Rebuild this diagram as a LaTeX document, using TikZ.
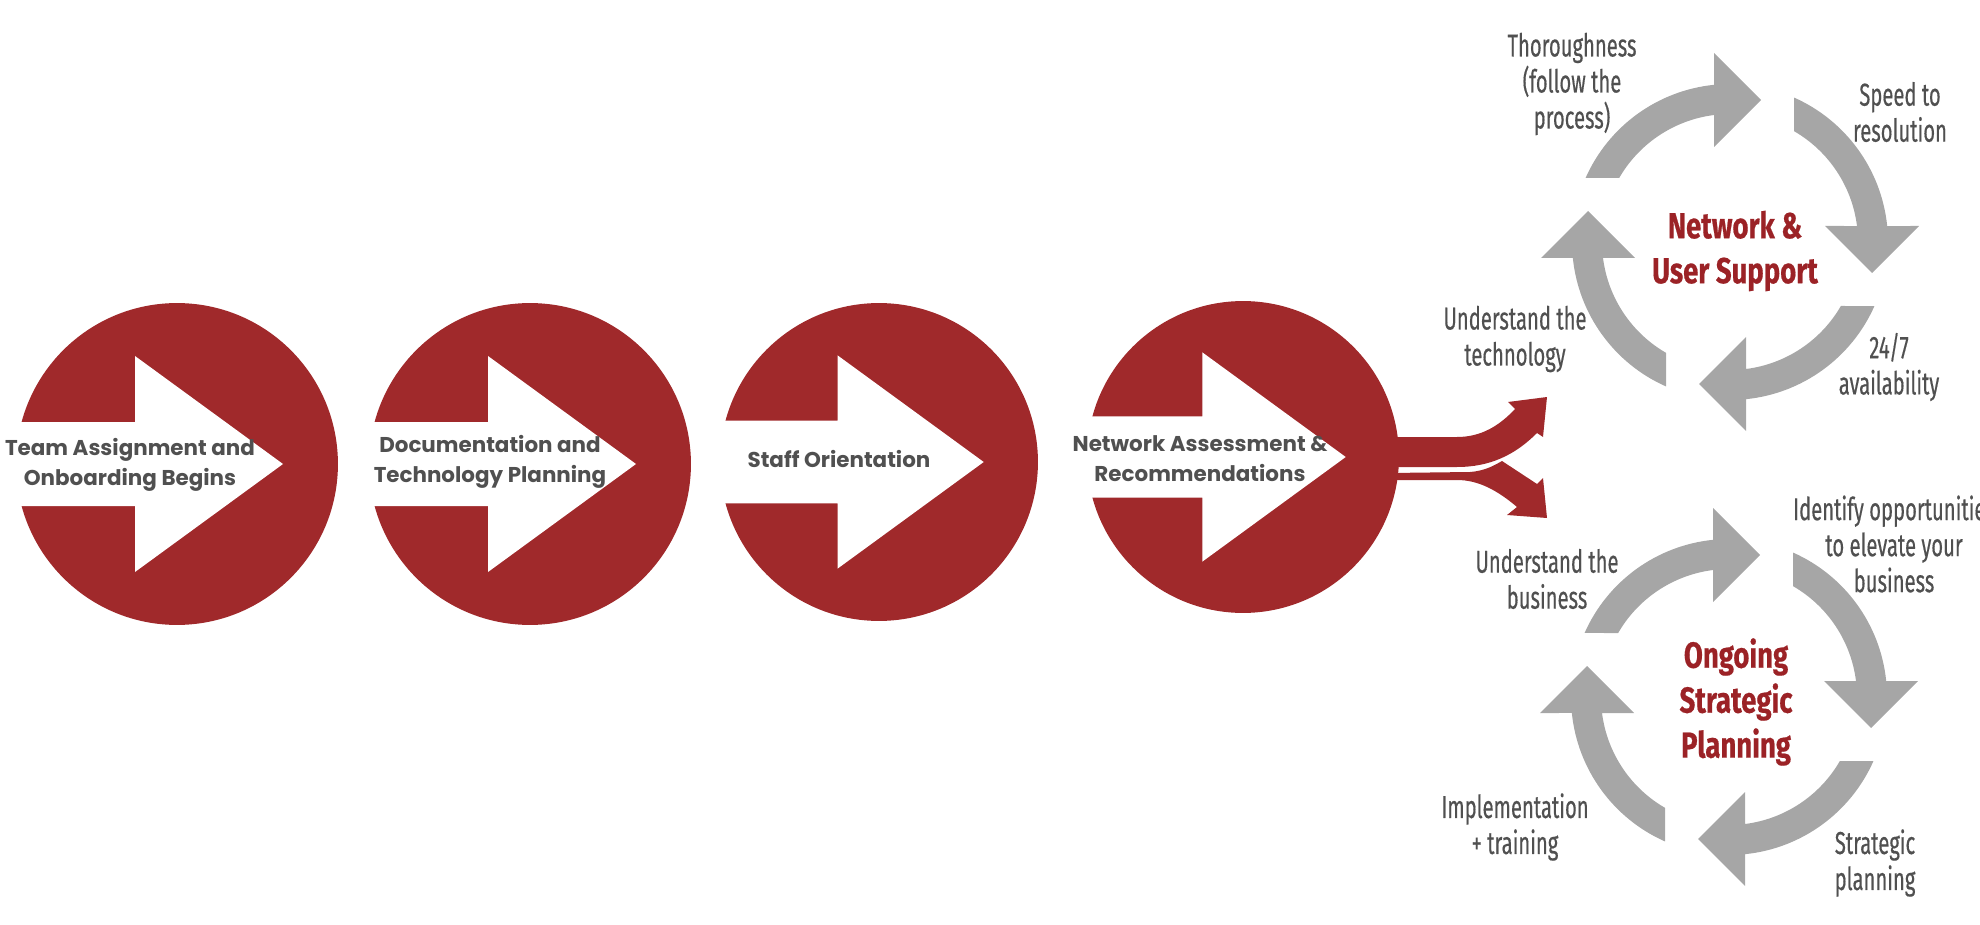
\documentclass[tikz,border=0pt]{standalone}
\usepackage{fontspec}
\usetikzlibrary{calc}
\newfontfamily\stepfont{Poppins}
\newfontfamily\loopfont[FakeStretch=0.64, FakeBold=0.4]{Fira Sans}
\newfontfamily\headfont[FakeStretch=0.76, FakeBold=0.5]{Fira Sans}
\definecolor{discred}{HTML}{A0292B}
\definecolor{loopgray}{HTML}{A6A6A6}
\definecolor{labelgray}{HTML}{505050}
\definecolor{titlered}{HTML}{9B2226}
\tikzset{
  disc/.style = {circle, fill=discred, inner sep=0pt},
  steptext/.style = {align=center, inner sep=0pt, text=labelgray,
    font=\stepfont\bfseries\fontsize{12.2}{17}\selectfont},
  looplabel/.style = {align=center, inner sep=0pt, text=labelgray,
    font=\loopfont\fontsize{18}{20.5}\selectfont},
  looptitle/.style = {align=center, inner sep=0pt, text=titlered,
    font=\headfont\bfseries\fontsize{20.6}{25.6}\selectfont}
}
\begin{document}
\begin{tikzpicture}[x=0.02cm, y=0.02cm]
\useasboundingbox (0,0) rectangle (1980,924);
\clip (0,0) rectangle (1980,924);
% the four steps
\foreach \n/\x/\y/\r in {c1/177/460/161, c2/530/460/161, c3/879/462/159, c4/1243/467/156} {
  \node[disc, minimum size=\r*0.04cm] (\n) at (\x,\y) {};
  \begin{scope}[shift={(\n.center)}, scale=\r/161]
    \fill[white] (-168,42) -- (-42,42) -- (-42,108) -- (106,0) -- (-42,-108) -- (-42,-42) -- (-168,-42) -- cycle;
  \end{scope}
}
\node[steptext] (t1) at (130,459) {Team Assignment and\\Onboarding Begins};
\node[steptext] (t2) at (490,462) {Documentation and\\Technology Planning};
\node[steptext] (t3) at (839,465) {Staff Orientation};
\node[steptext] (t4) at (1200,465) {Network Assessment \&\\Recommendations};
% fork out of the last step
\coordinate (uptip) at (1547,527);
\coordinate (downtip) at (1547,406);
\fill[discred] (1390,487) -- (1457,487) .. controls (1482,487) and (1500,499) .. (1515,515)
  -- (1508,522) -- (uptip) -- (1543,487) -- (1537,491)
  .. controls (1515,469) and (1490,457) .. (1457,457) -- (1390,457) -- cycle;
\fill[discred] (1390,451) -- (1470,452) .. controls (1485,453) and (1495,459) .. (1502,463)
  -- (1537,440) -- (1543,446) -- (downtip) -- (1507,409) -- (1517,417)
  .. controls (1497,434) and (1478,444) .. (1457,444) -- (1390,444) -- cycle;
% the two cycles
\foreach \cx/\cy in {1730/682, 1729/227} {
  \foreach \a in {0,-90,-180,-270} {
    \fill[loopgray, shift={(\cx,\cy)}, rotate=\a] (156.1:158) arc[start angle=156.1, end angle=95.81, radius=158]
      -- (-16,189) -- (31,142) -- (-16,95) -- (97.18:128) arc[start angle=97.18, end angle=150, radius=128] -- cycle;
  }
}
% top cycle texts
\node[looptitle] (support) at (1735,673) {Network \&\\User Support};
\node[looplabel] (thorough) at (1572,840) {Thoroughness\\(follow the\\process)};
\node[looplabel] (speed) at (1900,812) {Speed to\\resolution};
\node[looplabel] (avail) at (1889,557) {24/7\\availability};
\node[looplabel] (techn) at (1515,585) {Understand the\\technology};
% bottom cycle texts
\node[looptitle] (planning) at (1736,222) {Ongoing\\Strategic\\Planning};
\node[looplabel] (business) at (1547,345) {Understand the\\business};
\node[looplabel] (identify) at (1894,380) {Identify opportunities\\to elevate your\\business};
\node[looplabel] (implement) at (1515,97) {Implementation\\+ training};
\node[looplabel] (strategic) at (1875,61) {Strategic\\planning};
\end{tikzpicture}
\end{document}
